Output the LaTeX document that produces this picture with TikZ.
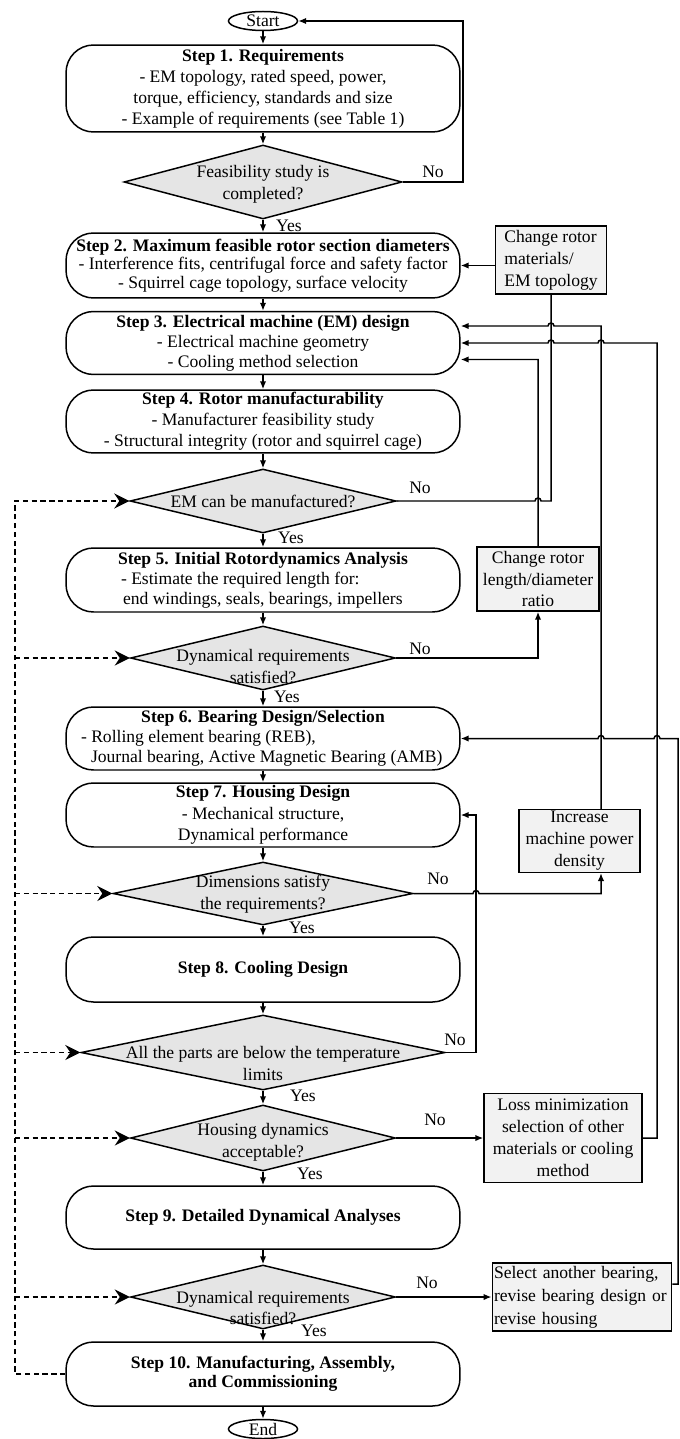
\documentclass[tikz,border=0pt]{standalone}
\usepackage{fontspec}
\setmainfont{Liberation Serif}
\usepackage{tikz}
\usetikzlibrary{arrows.meta,shapes.geometric}

\newcommand{\hopl}{arc[start angle=0,end angle=180,radius=0.06cm]}
\newcommand{\hopr}{arc[start angle=180,end angle=0,radius=0.06cm]}

\begin{document}
\begin{tikzpicture}[x=0.02cm,y=-0.02cm,line width=0.85pt,
	font=\fontsize{10}{12}\selectfont,>={Latex[length=1.6mm,width=1.3mm]},
	stepbox/.style={draw,rounded corners=0.55cm,minimum width=7.88cm,inner sep=0pt,align=center},
	decision/.style={draw,diamond,fill=black!10,inner sep=0pt},
	dtext/.style={inner sep=0pt,align=center,font=\fontsize{10}{12.5}\selectfont},
	sidebox/.style={draw,fill=black!5,inner sep=1pt,align=center,font=\fontsize{10}{12.5}\selectfont},
	term/.style={draw,ellipse,inner sep=0pt,minimum width=1.38cm,minimum height=0.38cm},
	back/.style={dash pattern=on 3pt off 2pt,-{Stealth[length=3mm,width=3mm,inset=1mm]}}]
	\useasboundingbox (0,0) rectangle (679,1439);
	%
	\node[term] (start) at (263,21) {Start};
	\node[stepbox,minimum height=1.74cm] (S1) at (263,88.5) {\textbf{Step 1. Requirements}\\- EM topology, rated speed, power,\\torque, efficiency, standards and size\\- Example of requirements (see Table 1)};
	\node[decision,minimum width=5.56cm,minimum height=1.48cm] (D1) at (263,182) {};
	\node[dtext] (t1) at (263,184.5) {Feasibility study is\\completed?};
	\node[stepbox,minimum height=1.3cm,font=\fontsize{10}{10.4}\selectfont] (S2) at (263,265.5) {\textbf{Step 2. Maximum feasible rotor section diameters}\\- Interference fits, centrifugal force and safety factor\\- Squirrel cage topology, surface velocity};
	\node[stepbox,minimum height=1.26cm,font=\fontsize{10}{11.4}\selectfont] (S3) at (263,343) {\textbf{Step 3. Electrical machine (EM) design}\\- Electrical machine geometry\\- Cooling method selection};
	\node[stepbox,minimum height=1.26cm] (S4) at (263,421.5) {\textbf{Step 4. Rotor manufacturability}\\- Manufacturer feasibility study\\- Structural integrity (rotor and squirrel cage)};
	\node[decision,minimum width=5.32cm,minimum height=1.28cm] (D2) at (263,501) {};
	\node[dtext] (t2) at (263,501) {EM can be manufactured?};
	\node[stepbox,minimum height=1.28cm,align=left,font=\fontsize{10}{11.4}\selectfont] (S5) at (263,580) {\textbf{Step 5. Initial Rotordynamics Analysis}\\\hspace{0.06cm}- Estimate the required length for:\\\hspace{0.1cm}end windings, seals, bearings, impellers};
	\node[decision,minimum width=5.3cm,minimum height=1.28cm] (D3) at (263,658) {};
	\node[dtext] (t3) at (263,667) {Dynamical requirements\\satisfied?};
	\node[stepbox,minimum height=1.26cm,font=\fontsize{10}{11.4}\selectfont] (S6) at (263,738.5) {\textbf{Step 6. Bearing Design/Selection}\\\makebox[7.28cm][l]{- Rolling element bearing (REB),}\\\makebox[7.28cm][l]{\hspace{0.2cm}Journal bearing, Active Magnetic Bearing (AMB)}};
	\node[stepbox,minimum height=1.28cm,font=\fontsize{10}{12.3}\selectfont] (S7) at (263,815) {\textbf{Step 7. Housing Design}\\- Mechanical structure,\\Dynamical performance};
	\node[decision,minimum width=6cm,minimum height=1.26cm] (D4) at (263,893.5) {};
	\node[dtext] (t4) at (263,894) {Dimensions satisfy\\the requirements?};
	\node[stepbox,minimum height=1.3cm] (S8) at (263,969.5) {\textbf{Step 8. Cooling Design}};
	\node[decision,minimum width=7.28cm,minimum height=1.5cm] (D5) at (263,1052.5) {};
	\node[dtext] (t5) at (263,1063) {All the parts are below the temperature\\limits};
	\node[decision,minimum width=5.3cm,minimum height=1.32cm] (D6) at (263,1138) {};
	\node[dtext] (t6) at (263,1142) {Housing dynamics\\acceptable?};
	\node[stepbox,minimum height=1.26cm] (S9) at (263,1217.5) {\textbf{Step 9. Detailed Dynamical Analyses}};
	\node[decision,minimum width=5.3cm,minimum height=1.28cm] (D7) at (263,1297) {};
	\node[dtext] (t7) at (263,1308) {Dynamical requirements\\satisfied?};
	\node[stepbox,minimum height=1.28cm,font=\fontsize{10}{10.8}\selectfont] (S10) at (263,1374) {\textbf{Step 10. Manufacturing, Assembly,}\\\textbf{and Commissioning}};
	\node[term] (end) at (263,1429) {End};
	%
	\node[sidebox,align=left,minimum width=2.22cm,minimum height=1.36cm] (C1) at (551,260) {Change rotor\\materials/\\EM topology};
	\node[sidebox,minimum width=2.44cm,minimum height=1.28cm] (C2) at (538,579) {Change rotor\\length/diameter\\ratio};
	\node[sidebox,minimum width=2.42cm,minimum height=1.24cm] (C3) at (579.5,841) {Increase\\machine power\\density};
	\node[sidebox,minimum width=3.16cm,minimum height=1.78cm] (C4) at (563,1138) {Loss minimization\\selection of other\\materials or cooling\\method};
	\node[sidebox,align=left,text width=3.52cm,minimum height=1.36cm,font=\fontsize{10}{13}\selectfont] (C5) at (582,1297) {Select another bearing,\\revise bearing design or\\revise housing};
	%
	\node (y1) at (289,226) {Yes};
	\node (y2) at (291,538) {Yes};
	\node (y3) at (287,697) {Yes};
	\node (y4) at (302,928) {Yes};
	\node (y5) at (303,1096) {Yes};
	\node (y6) at (310,1174) {Yes};
	\node (y7) at (314,1331) {Yes};
	\node (n1) at (433,172) {No};
	\node (n2) at (420,488) {No};
	\node (n3) at (420,649) {No};
	\node (n4) at (438,879) {No};
	\node (n5) at (455,1040) {No};
	\node (n6) at (435,1120) {No};
	\node (n7) at (427,1283) {No};
	%
	\path[->]
	(start) edge (S1)
	(S1) edge (D1)
	(D1) edge (S2)
	(S2) edge (S3)
	(S3) edge (S4)
	(S4) edge (D2)
	(D2) edge (S5)
	(S5) edge (D3)
	(D3) edge (S6)
	(S6) edge (S7)
	(S7) edge (D4)
	(D4) edge (S8)
	(S8) edge (D5)
	(D5) edge (D6)
	(D6) edge (S9)
	(D6) edge (C4)
	(S9) edge (D7)
	(D7) edge (S10)
	(D7) edge (C5)
	(S10) edge (end);
	%
	\draw[->] (D1.east) -- (463,182) -- (463,21) -- (start.east);
	\draw (D2.east) -- (535,501) \hopr -- (551,501) -- (C1.south);
	\draw[->] (C1.west |- S2.east) -- (S2.east);
	\draw[->] (D3.east) -- (538,658) -- (C2.south);
	\draw[->] (C2.north) -- (538,359.5) -- ([yshift=-0.33cm]S3.east);
	\draw[->] (D4.east) -- (473,893.5) \hopr -- (601,893.5) -- (C3.south -| 601,0);
	\draw[->] (C3.north -| 601,0) -- (601,326) -- (554,326) \hopl -- ([yshift=0.34cm]S3.east);
	\draw[->] (D5.east) -- (476,1052.5) -- (476,815) -- (S7.east);
	\draw[->] (C4.east) -- (657,1138) -- (657,343) -- (604,343) \hopl -- (554,343) \hopl -- (S3.east);
	\draw[->] (C5.east |- 0,1284) -- (678,1284) -- (678,738.5) -- (660,738.5) \hopl -- (604,738.5) \hopl -- (S6.east);
	%
	\draw[back] (S10.west) -- (15,1374) -- (15,501) -- (D2.west);
	\foreach \d in {D3,D4,D5,D6,D7}
		\draw[back] (15,0 |- \d.west) -- (\d.west);
\end{tikzpicture}
\end{document}
